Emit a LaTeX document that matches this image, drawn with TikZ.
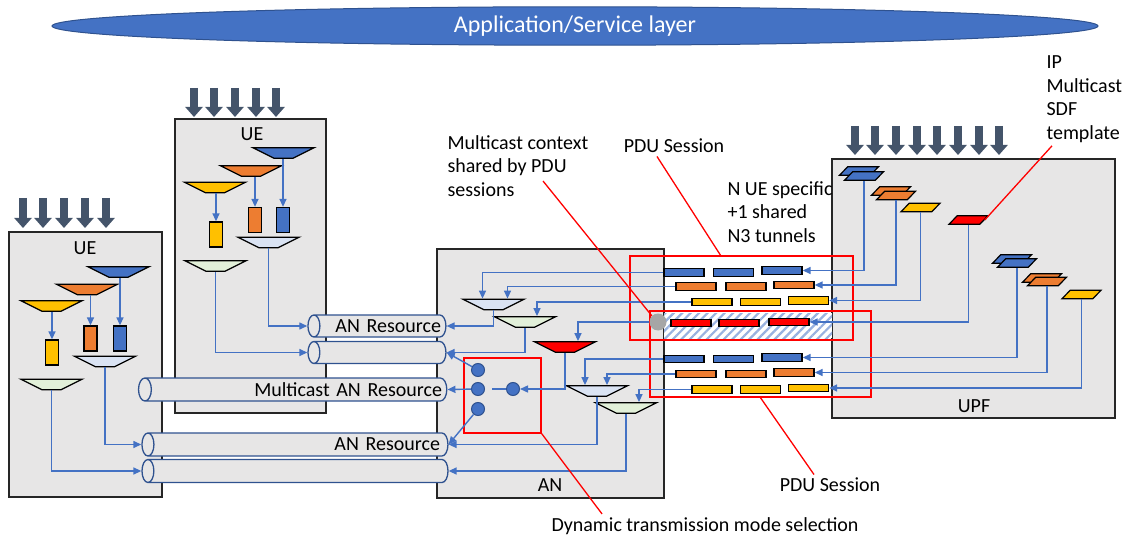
\documentclass[tikz,border=0pt]{standalone}
\usepackage{fontspec}
\setmainfont{Carlito}
\usepackage{xcolor}
\usepackage{tikz}
\usetikzlibrary{shapes.geometric, arrows.meta, patterns.meta}

\definecolor{msblue}{HTML}{4472C4}
\definecolor{msdark}{HTML}{2F528F}
\definecolor{msorange}{HTML}{ED7D31}
\definecolor{msgold}{HTML}{FFC000}
\definecolor{mslblue}{HTML}{DAE3F3}
\definecolor{mslgreen}{HTML}{E2F0D9}
\definecolor{boxgray}{HTML}{E7E6E6}
\definecolor{slate}{HTML}{44546A}

\begin{document}
\begin{tikzpicture}[x=1pt, y=-1pt, font=\fontsize{20}{23.5}\selectfont,
    box/.style={draw=black!85, fill=boxgray, line width=1.4pt},
    mux/.style={trapezium, trapezium left angle=138, trapezium right angle=138,
        trapezium stretches=true, minimum width=61pt, minimum height=10.5pt,
        inner sep=1pt, draw=black, line width=1.3pt},
    sdf/.style={trapezium, trapezium left angle=70, trapezium right angle=110,
        trapezium stretches=true, minimum width=39pt, minimum height=8.5pt,
        inner sep=1pt, draw=black, line width=1.2pt},
    cell/.style={rectangle, draw=black, line width=1.3pt, minimum width=13pt,
        minimum height=25pt, inner sep=0pt},
    tunnel/.style={rectangle, draw=black, line width=1.3pt, minimum width=40pt,
        minimum height=7.5pt, inner sep=0pt},
    tube/.style={cylinder, shape border rotate=180, aspect=0.8, draw=msdark,
        fill=boxgray, line width=1.3pt, minimum width=22pt, inner sep=1pt, align=right},
    dot/.style={circle, fill=msblue, draw=msdark, line width=1pt, minimum size=13pt, inner sep=0pt},
    sess/.style={rectangle, draw=red, line width=1.5pt, inner sep=0pt},
    flow/.style={draw=msblue, line width=1.4pt, -{Triangle[length=8pt,width=7pt]}},
    link/.style={draw=msblue, line width=1.4pt},
    callout/.style={draw=red, line width=1.3pt},
    downarr/.style={draw=slate, line width=8.5pt, -{Triangle[length=10pt,width=17pt]}}]
    \useasboundingbox (0,0) rectangle (1123,537);

    % service layer on top
    \node[ellipse, fill=msblue, draw=msdark, line width=1pt, minimum width=1046pt,
        minimum height=33pt, text=white, font=\fontsize{24}{28}\selectfont] (app) at (575,26) {Application/Service layer};

    % the four boxes
    \draw[box] (9,232) rectangle (162,497);
    \draw[box] (175,119) rectangle (326,413);
    \draw[box] (437,249) rectangle (664,498);
    \draw[box] (832,159) rectangle (1115,418);
    \node (ueAlbl) at (85,248) {UE};
    \node (ueBlbl) at (252,134) {UE};
    \node (anlbl) at (550,485) {AN};
    \node (upflbl) at (974,406) {UPF};

    % incoming flows
    \draw[downarr] (23,198) -- (23,228);
    \draw[downarr] (43,198) -- (43,228);
    \draw[downarr] (64,198) -- (64,228);
    \draw[downarr] (85,198) -- (85,228);
    \draw[downarr] (106,198) -- (106,228);
    \draw[downarr] (194,88) -- (194,117);
    \draw[downarr] (214,88) -- (214,117);
    \draw[downarr] (235,88) -- (235,117);
    \draw[downarr] (256,88) -- (256,117);
    \draw[downarr] (276,88) -- (276,117);
    \draw[downarr] (855,126) -- (855,155);
    \draw[downarr] (875,126) -- (875,155);
    \draw[downarr] (896,126) -- (896,155);
    \draw[downarr] (917,126) -- (917,155);
    \draw[downarr] (937,126) -- (937,155);
    \draw[downarr] (958,126) -- (958,155);
    \draw[downarr] (979,126) -- (979,155);
    \draw[downarr] (999,126) -- (999,155);

    % shared tunnel band
    \path[fill=white, postaction={pattern={Lines[angle=45,distance=6pt,line width=2.2pt]},
        pattern color=msblue!55}] (664,313) rectangle (832,338);

    % session frames
    \node[sess, minimum width=223pt, minimum height=84pt] (pduA) at (741.5,298) {};
    \node[sess, minimum width=221pt, minimum height=86pt] (pduB) at (760.5,354) {};
    \node[sess, minimum width=77pt, minimum height=75pt] (dyn) at (502.5,395.5) {};

    % N3 tunnels
    \node[tunnel, fill=msblue] (tA1) at (684,272.5) {};
    \node[tunnel, fill=msblue] (tA2) at (733.5,272.5) {};
    \node[tunnel, fill=msblue] (tA3) at (782,270.5) {};
    \node[tunnel, fill=msorange] (tB1) at (696,286.5) {};
    \node[tunnel, fill=msorange] (tB2) at (746,286.5) {};
    \node[tunnel, fill=msorange] (tB3) at (794,285) {};
    \node[tunnel, fill=msgold] (tC1) at (712,302) {};
    \node[tunnel, fill=msgold] (tC2) at (760.5,302) {};
    \node[tunnel, fill=msgold] (tC3) at (808.5,300.5) {};
    \node[tunnel, fill=red] (tD1) at (691,323) {};
    \node[tunnel, fill=red] (tD2) at (739,323) {};
    \node[tunnel, fill=red] (tD3) at (789,322) {};
    \node[tunnel, fill=msblue] (tE1) at (684,359) {};
    \node[tunnel, fill=msblue] (tE2) at (733.5,359) {};
    \node[tunnel, fill=msblue] (tE3) at (782,357.5) {};
    \node[tunnel, fill=msorange] (tF1) at (696,374) {};
    \node[tunnel, fill=msorange] (tF2) at (746,374) {};
    \node[tunnel, fill=msorange] (tF3) at (794,372.5) {};
    \node[tunnel, fill=msgold] (tG1) at (712,389.5) {};
    \node[tunnel, fill=msgold] (tG2) at (760.5,389.5) {};
    \node[tunnel, fill=msgold] (tG3) at (808.5,388) {};

    % AN resources
    \node[tube, minimum height=138pt, text width=119pt] (resA) at (381.5,326) {AN Resource};
    \node[tube, minimum height=138pt, text width=119pt] (resB) at (381.5,352.5) {\vphantom{A}};
    \node[tube, minimum height=306pt, minimum width=23pt, text width=289pt] (resM) at (297.5,389.5) {Multicast AN Resource};
    \node[tube, minimum height=306pt, minimum width=23pt, text width=281pt] (resC) at (299.5,444.5) {AN Resource};
    \node[tube, minimum height=306pt, minimum width=23pt, text width=281pt] (resD) at (299.5,471) {\vphantom{A}};

    % first UE
    \node[mux, fill=msblue] (aBlu) at (118.5,272) {};
    \node[mux, fill=msorange] (aOrg) at (87,289.5) {};
    \node[mux, fill=msgold] (aYel) at (51.5,306) {};
    \node[cell, fill=msgold] (aYelC) at (52,352.5) {};
    \node[cell, fill=msorange] (aOrgC) at (90.5,338.5) {};
    \node[cell, fill=msblue] (aBluC) at (120,338.5) {};
    \node[mux, fill=mslblue] (aMix) at (105,361.5) {};
    \node[mux, fill=mslgreen] (aMc) at (51.5,384.5) {};
    \draw[flow] (aYelC.north |- aYel.south) -- (aYelC.north);
    \draw[flow] (aOrgC.north |- aOrg.south) -- (aOrgC.north);
    \draw[flow] (aBluC.north |- aBlu.south) -- (aBluC.north);
    \draw[flow] (aMix.south) |- (resC.west);
    \draw[flow] (aMc.south) |- (resD.west);

    % second UE
    \node[mux, fill=msblue] (bBlu) at (283.5,153) {};
    \node[mux, fill=msorange] (bOrg) at (251,171) {};
    \node[mux, fill=msgold] (bYel) at (215,187.5) {};
    \node[cell, fill=msgold] (bYelC) at (216,234.5) {};
    \node[cell, fill=msorange] (bOrgC) at (255,220) {};
    \node[cell, fill=msblue] (bBluC) at (283,220) {};
    \node[mux, fill=mslblue] (bMix) at (268.5,242.5) {};
    \node[mux, fill=mslgreen] (bMc) at (215.5,266) {};
    \draw[flow] (bYelC.north |- bYel.south) -- (bYelC.north);
    \draw[flow] (bOrgC.north |- bOrg.south) -- (bOrgC.north);
    \draw[flow] (bBluC.north |- bBlu.south) -- (bBluC.north);
    \draw[flow] (bMix.south) |- (resA.west);
    \draw[flow] (bMc.south) |- (resB.west);

    % AN
    \node[mux, fill=mslblue] (tMixA) at (493.5,304.5) {};
    \node[mux, fill=mslgreen] (tMcA) at (525,322) {};
    \node[mux, fill=red] (tSel) at (565,347) {};
    \node[mux, fill=mslblue] (tMixB) at (597,391) {};
    \node[mux, fill=mslgreen] (tMcB) at (626,408) {};
    \node[dot] (dUp) at (478,370) {};
    \node[dot] (dMid) at (478,389) {};
    \node[dot] (dLow) at (478,409) {};
    \node[dot] (dIn) at (513,389) {};
    \node[circle, fill=black!35, minimum size=17pt, inner sep=0pt] (share) at (658,322) {};
    \draw[flow] (tA1.west) -| ([xshift=-11pt]tMixA.north);
    \draw[flow] (tB1.west) -| ([xshift=14pt]tMixA.north);
    \draw[flow] (tC1.west) -| ([xshift=12pt]tMcA.north);
    \draw[flow] (share.west) -| ([xshift=13pt]tSel.north);
    \draw[flow] (tE1.west) -| ([xshift=-12pt]tMixB.north);
    \draw[flow] (tF1.west) -| ([xshift=10pt]tMixB.north);
    \draw[flow] (tG1.west) -| ([xshift=13pt]tMcB.north);
    \draw[flow] (tMixA.south) |- (resA.east);
    \draw[flow] (tMcA.south) |- (resB.east);
    \draw[flow] (tSel.south) |- (dIn.east);
    \draw[link, shorten >=7pt] (dIn.west) -- (dMid.east);
    \draw[flow] (dUp) -- (resB.east);
    \draw[flow] (dMid) -- (resM.east);
    \draw[flow] (dLow) -- (resC.east);
    \draw[flow] (tMixB.south) |- (resC.east);
    \draw[flow] (tMcB.south) |- (resD.east);

    % UPF
    \node[sdf, fill=msblue] (uBluBk) at (859,171) {};
    \node[sdf, fill=msblue] (uBlu) at (864,176) {};
    \node[sdf, fill=msorange] (uOrgBk) at (891,191) {};
    \node[sdf, fill=msorange] (uOrg) at (896,195.5) {};
    \node[sdf, fill=msgold] (uYel) at (920.5,207.5) {};
    \node[sdf, fill=red] (uMc) at (968.5,220) {};
    \node[sdf, fill=msblue] (vBluBk) at (1012,259) {};
    \node[sdf, fill=msblue] (vBlu) at (1017,263) {};
    \node[sdf, fill=msorange] (vOrgBk) at (1042,278) {};
    \node[sdf, fill=msorange] (vOrg) at (1047,281.5) {};
    \node[sdf, fill=msgold] (vYel) at (1081.5,294.5) {};
    \draw[flow] (uBlu.south) |- (tA3.east);
    \draw[flow] (uOrg.south) |- (tB3.east);
    \draw[flow] (uYel.south) |- (tC3.east);
    \draw[flow] (uMc.south) |- (tD3.east);
    \draw[flow] (vBlu.south) |- (tE3.east);
    \draw[flow] (vOrg.south) |- (tF3.east);
    \draw[flow] (vYel.south) |- (tG3.east);

    % call-outs
    \node[align=left, anchor=west] (ctxLbl) at (444,166) {Multicast context\\shared by PDU\\sessions};
    \node (pduALbl) at (674,146) {PDU Session};
    \node[align=left, anchor=west] (tunLbl) at (724,212) {N UE specific\\+1 shared\\N3 tunnels};
    \node[align=left, anchor=west] (sdfLbl) at (1043,99) {IP\\Multicast\\SDF\\template};
    \node (pduBLbl) at (830,485) {PDU Session};
    \node (dynLbl) at (705,526) {Dynamic transmission mode selection};
    \coordinate (ctxTip) at (543,181);
    \draw[callout] (ctxTip) -- (share.north west);
    \draw[callout] ([xshift=-17pt]pduALbl.south) -- ([xshift=-21pt]pduA.north);
    \draw[callout] (pduB.south) -- ([xshift=-16pt]pduBLbl.north);
    \draw[callout] (dyn.south east) -- ([xshift=-103pt]dynLbl.north);
    \draw[callout] ([xshift=9pt]sdfLbl.south west) -- (uMc.east);
\end{tikzpicture}
\end{document}
